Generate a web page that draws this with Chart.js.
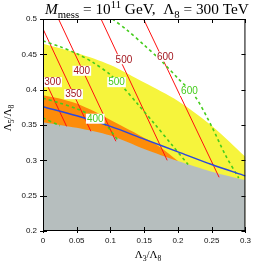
<!DOCTYPE html>
<html lang="en">
<head>
<meta charset="UTF-8">
<title>M_mess = 10^11 GeV, Λ8 = 300 TeV</title>
<script src="https://cdn.jsdelivr.net/npm/chart.js"></script>
<style>
  html, body { margin: 0; padding: 0; background: #fff; }
  #chart { display: block; }
</style>
</head>
<body>
<canvas id="chart" width="256" height="262"></canvas>
<script>
// axes
const xTicks = [0, 0.05, 0.1, 0.15, 0.2, 0.25, 0.3];
const xTickLabels = ['0', '0.05', '0.1', '0.15', '0.2', '0.25', '0.3'];
const yTicks = [0.2, 0.25, 0.3, 0.35, 0.4, 0.45, 0.5];
const yTickLabels = ['0.2', '0.25', '0.3', '0.35', '0.4', '0.45', '0.5'];

// shaded regions (upper edge, filled down to the bottom)
const yellowX = [0, 0.05, 0.1, 0.15, 0.2, 0.25, 0.3];
const yellowY = [0.465, 0.452, 0.435, 0.410, 0.384, 0.349, 0.305];
const orangeX = [0, 0.03, 0.056, 0.083, 0.11, 0.142, 0.17, 0.2];
const orangeY = [0.392, 0.386, 0.378, 0.366, 0.352, 0.336, 0.321, 0.299];
const grayX = [0, 0.05, 0.1, 0.15, 0.2, 0.25, 0.3];
const grayY = [0.354, 0.346, 0.335, 0.316, 0.299, 0.284, 0.272];

// blue line
const blueX = [0, 0.05, 0.1, 0.15, 0.2, 0.25, 0.3];
const blueY = [0.376, 0.363, 0.348, 0.330, 0.312, 0.294, 0.278];

// red contours (solid), start/end points
const red300 = [[0, 0.419], [0.035, 0.348]];
const red350 = [[0, 0.486], [0.071, 0.341]];
const red400 = [[0.023, 0.5], [0.108, 0.327]];
const red500 = [[0.086, 0.5], [0.184, 0.300]];
const red600 = [[0.149, 0.5], [0.261, 0.276]];

// green contours (dashed)
const green400X = [0, 0.025, 0.05, 0.075, 0.095, 0.112];
const green400Y = [0.388, 0.381, 0.373, 0.362, 0.348, 0.327];
const green400bX = [0, 0.025];
const green400bY = [0.360, 0.349];
const green500X = [0, 0.025, 0.05, 0.075, 0.1, 0.12, 0.14, 0.165, 0.19, 0.215];
const green500Y = [0.469, 0.461, 0.451, 0.438, 0.421, 0.402, 0.380, 0.352, 0.323, 0.294];
const green600X = [0.103, 0.125, 0.15, 0.175, 0.2, 0.225, 0.25, 0.27, 0.29];
const green600Y = [0.5, 0.484, 0.463, 0.441, 0.416, 0.391, 0.348, 0.308, 0.275];

// contour labels
const labelText = ['300', '350', '400', '500', '600', '400', '500', '600'];
const labelX = [0.0143, 0.0453, 0.0575, 0.1199, 0.1813, 0.0774, 0.109, 0.217];
const labelY = [0.4106, 0.3936, 0.4267, 0.443, 0.4468, 0.3589, 0.4106, 0.3983];
const labelIsGreen = [false, false, false, false, false, true, true, true];

const RED = '#ff1010';
const RED_TEXT = '#a3161f';
const GREEN = '#44cc1c';
const SERIF = '"Liberation Serif", "DejaVu Serif", serif';
const SANS = '"Liberation Sans", Arial, sans-serif';

const pts = (xs, ys) => xs.map((x, i) => ({ x: x, y: ys[i] }));
const seg = s => s.map(p => ({ x: p[0], y: p[1] }));

function region(xs, ys, color, order) {
    return { data: pts(xs, ys), backgroundColor: color, borderWidth: 0, fill: 'start', pointRadius: 0, tension: 0.3, order: order };
}
function redLine(s) {
    return { data: seg(s), borderColor: RED, borderWidth: 1, pointRadius: 0, fill: false, order: 2 };
}
function greenLine(xs, ys) {
    return { data: pts(xs, ys), borderColor: GREEN, borderWidth: 1.6, borderDash: [3, 3], pointRadius: 0, fill: false, tension: 0.3, order: 1 };
}

// draw text with sub/superscripts
function richWidth(ctx, parts, size) {
    let w = 0;
    parts.forEach(p => {
        const s = (p.sub || p.sup) ? size * 0.7 : size;
        ctx.font = (p.it ? 'italic ' : '') + s + 'px ' + SERIF;
        w += ctx.measureText(p.t).width;
    });
    return w;
}
function drawRich(ctx, parts, x, y, size) {
    ctx.textBaseline = 'alphabetic';
    ctx.textAlign = 'left';
    parts.forEach(p => {
        const s = (p.sub || p.sup) ? size * 0.7 : size;
        ctx.font = (p.it ? 'italic ' : '') + s + 'px ' + SERIF;
        const dy = p.sub ? size * 0.25 : (p.sup ? -size * 0.4 : 0);
        ctx.fillText(p.t, x, y + dy);
        x += ctx.measureText(p.t).width;
    });
}

const titleParts = [
    { t: 'M', it: true }, { t: 'mess', sub: true }, { t: ' = 10' }, { t: '11', sup: true },
    { t: ' GeV,  Λ' }, { t: '8', sub: true }, { t: ' = 300 TeV' }
];
const yTitleParts = [{ t: 'Λ' }, { t: '5', sub: true }, { t: '/Λ' }, { t: '8', sub: true }];
const xTitleParts = [{ t: 'Λ' }, { t: '3', sub: true }, { t: '/Λ' }, { t: '8', sub: true }];

const decorations = {
    id: 'decorations',
    afterDatasetsDraw(chart) {
        const { ctx, chartArea: a, scales: { x, y } } = chart;
        ctx.save();

        // contour labels with white boxes
        ctx.font = '10px ' + SANS;
        ctx.textAlign = 'center';
        ctx.textBaseline = 'middle';
        labelText.forEach((t, i) => {
            const px = x.getPixelForValue(labelX[i]);
            const py = y.getPixelForValue(labelY[i]);
            const w = ctx.measureText(t).width + 2;
            ctx.fillStyle = '#fff';
            ctx.fillRect(px - w / 2, py - 5, w, 10);
            ctx.fillStyle = labelIsGreen[i] ? GREEN : RED_TEXT;
            ctx.fillText(t, px, py + 0.5);
        });

        // frame and inward ticks
        ctx.strokeStyle = '#000';
        ctx.lineWidth = 1;
        ctx.strokeRect(a.left + 0.5, a.top + 0.5, a.right - a.left - 1, a.bottom - a.top - 1);
        ctx.beginPath();
        xTicks.forEach(v => {
            const px = Math.round(x.getPixelForValue(v)) + 0.5;
            ctx.moveTo(px, a.bottom + 2); ctx.lineTo(px, a.bottom - 4);
            ctx.moveTo(px, a.top); ctx.lineTo(px, a.top + 4);
        });
        yTicks.forEach(v => {
            const py = Math.round(y.getPixelForValue(v)) + 0.5;
            ctx.moveTo(a.left - 3, py); ctx.lineTo(a.left + 4, py);
            ctx.moveTo(a.right, py); ctx.lineTo(a.right - 4, py);
        });
        ctx.stroke();

        // titles
        ctx.fillStyle = '#000';
        const tw = richWidth(ctx, titleParts, 14);
        const tsize = 14 * 204 / tw;
        drawRich(ctx, titleParts, 45, 14, tsize);

        const xw = richWidth(ctx, xTitleParts, 11);
        drawRich(ctx, xTitleParts, 148 - xw / 2, 258, 11);

        const yw = richWidth(ctx, yTitleParts, 11);
        ctx.translate(11, 118);
        ctx.rotate(-Math.PI / 2);
        drawRich(ctx, yTitleParts, -yw / 2, 0, 11);
        ctx.restore();
    }
};

new Chart(document.getElementById('chart'), {
    type: 'line',
    data: {
        datasets: [
            region(yellowX, yellowY, '#f6f43c', 9),
            region(orangeX, orangeY, '#fd8c0a', 8),
            region(grayX, grayY, '#b6bebe', 7),
            { data: pts(blueX, blueY), borderColor: '#2c48dc', borderWidth: 1.5, pointRadius: 0, fill: false, tension: 0.3, order: 0 },
            redLine(red300), redLine(red350), redLine(red400), redLine(red500), redLine(red600),
            greenLine(green400X, green400Y), greenLine(green400bX, green400bY),
            greenLine(green500X, green500Y), greenLine(green600X, green600Y)
        ]
    },
    options: {
        responsive: false,
        animation: false,
        devicePixelRatio: 1,
        layout: { padding: { top: 19, right: 8, bottom: 0, left: 0 } },
        plugins: { legend: { display: false }, tooltip: { enabled: false }, filler: { propagate: false } },
        scales: {
            x: {
                type: 'linear', min: 0, max: 0.3,
                afterBuildTicks: s => { s.ticks = xTicks.map(v => ({ value: v })); },
                afterFit: s => { s.height = 31; },
                grid: { display: false, drawTicks: false },
                border: { display: false },
                ticks: { padding: 5, color: '#111', autoSkip: false, maxRotation: 0,
                    font: { family: SANS, size: 8 },
                    callback: (v, i) => xTickLabels[i] }
            },
            y: {
                type: 'linear', min: 0.2, max: 0.5,
                afterBuildTicks: s => { s.ticks = yTicks.map(v => ({ value: v })); },
                afterFit: s => { s.width = 43; },
                grid: { display: false, drawTicks: false },
                border: { display: false },
                ticks: { padding: 6, color: '#111', autoSkip: false,
                    font: { family: SANS, size: 8 },
                    callback: (v, i) => yTickLabels[i] }
            }
        }
    },
    plugins: [decorations]
});
</script>
</body>
</html>
